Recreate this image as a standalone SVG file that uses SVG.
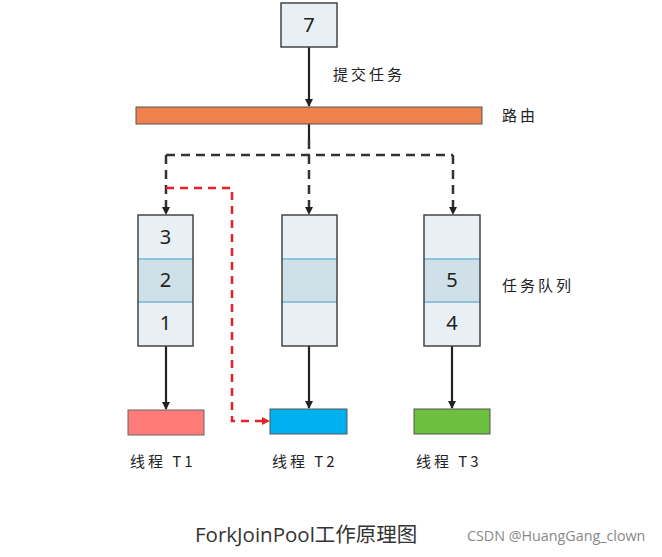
<svg xmlns="http://www.w3.org/2000/svg" width="662" height="557" viewBox="0 0 662 557">
<style>
.t{font-family:"Noto Sans CJK SC","Noto Sans",sans-serif;fill:#222;}
.n{font-family:"Noto Sans","Noto Sans CJK SC",sans-serif;font-size:20px;fill:#222;text-anchor:middle;}
.lbl{font-size:15px;letter-spacing:3px;}
.q{stroke:#444;stroke-width:1.5;}
.solid{stroke:#222;stroke-width:2.2;fill:none;}
.dash{stroke:#333;stroke-width:2.5;fill:none;stroke-dasharray:9,6;}
.red{stroke:#e8202a;stroke-width:2.5;fill:none;stroke-dasharray:8,6;}
</style>
<defs>
<marker id="ah" markerWidth="8" markerHeight="8" refX="7" refY="4" orient="auto" markerUnits="userSpaceOnUse"><path d="M0,0 L8,4 L0,8 Z" fill="#222"/></marker>
<marker id="ahr" markerWidth="8" markerHeight="8" refX="7" refY="4" orient="auto" markerUnits="userSpaceOnUse"><path d="M0,0 L8,4 L0,8 Z" fill="#e8202a"/></marker>
</defs>
<rect width="662" height="557" fill="#fff"/>
<g id="connectors">
<line class="solid" x1="309" y1="47" x2="309" y2="106" marker-end="url(#ah)"/>
<line class="solid" x1="309" y1="124" x2="309" y2="140"/>
<path class="dash" d="M309,140 V155 M166,155 H453"/>
<line class="dash" x1="166" y1="155" x2="166" y2="214" marker-end="url(#ah)"/>
<line class="dash" x1="309" y1="155" x2="309" y2="214" marker-end="url(#ah)"/>
<line class="dash" x1="453" y1="155" x2="453" y2="214" marker-end="url(#ah)"/>
<path class="red" d="M166,188 H232 V421 H269" marker-end="url(#ahr)"/>
<line class="solid" x1="166" y1="346" x2="166" y2="409" marker-end="url(#ah)"/>
<line class="solid" x1="309" y1="346" x2="309" y2="408" marker-end="url(#ah)"/>
<line class="solid" x1="452" y1="346" x2="452" y2="408" marker-end="url(#ah)"/>
</g>
<g id="task7">
<rect x="281" y="3" width="56" height="44" fill="#e8f0f5" class="q"/>
<text class="n" x="309" y="32">7</text>
</g>
<g id="label-submit"><text class="t lbl" x="333" y="80">提交任务</text></g>
<g id="router">
<rect x="136" y="107" width="346" height="17" fill="#ee814c" stroke="#555" stroke-width="1"/>
</g>
<g id="label-router"><text class="t lbl" x="502" y="121">路由</text></g>
<g id="queue1">
<rect x="138" y="215" width="55" height="131" fill="#e8f0f5"/>
<rect x="138" y="259" width="55" height="43" fill="#cfe0e8"/>
<line x1="138" y1="259" x2="193" y2="259" stroke="#72b8d4" stroke-width="1.5"/>
<line x1="138" y1="302" x2="193" y2="302" stroke="#72b8d4" stroke-width="1.5"/>
<rect x="138" y="215" width="55" height="131" fill="none" class="q"/>
<text class="n" x="165.500" y="244">3</text>
<text class="n" x="165.500" y="287">2</text>
<text class="n" x="165.500" y="330">1</text>
</g>
<g id="queue2">
<rect x="282" y="215" width="55" height="131" fill="#e8f0f5"/>
<rect x="282" y="259" width="55" height="43" fill="#cfe0e8"/>
<line x1="282" y1="259" x2="337" y2="259" stroke="#72b8d4" stroke-width="1.5"/>
<line x1="282" y1="302" x2="337" y2="302" stroke="#72b8d4" stroke-width="1.5"/>
<rect x="282" y="215" width="55" height="131" fill="none" class="q"/>
</g>
<g id="queue3">
<rect x="424" y="215" width="56" height="131" fill="#e8f0f5"/>
<rect x="424" y="259" width="56" height="43" fill="#cfe0e8"/>
<line x1="424" y1="259" x2="480" y2="259" stroke="#72b8d4" stroke-width="1.5"/>
<line x1="424" y1="302" x2="480" y2="302" stroke="#72b8d4" stroke-width="1.5"/>
<rect x="424" y="215" width="56" height="131" fill="none" class="q"/>
<text class="n" x="452" y="287">5</text>
<text class="n" x="452" y="330">4</text>
</g>
<g id="label-queue"><text class="t lbl" x="502" y="291">任务队列</text></g>
<g id="thread1">
<rect x="128" y="410" width="76" height="25" fill="#ff7b78" stroke="#666" stroke-width="1"/>
<text class="t lbl" x="130" y="467">线程 T1</text>
</g>
<g id="thread2">
<rect x="270" y="409" width="77" height="25" fill="#00b0ef" stroke="#555" stroke-width="1"/>
<text class="t lbl" x="272" y="467">线程 T2</text>
</g>
<g id="thread3">
<rect x="414" y="409" width="76" height="25" fill="#6dbf40" stroke="#555" stroke-width="1"/>
<text class="t lbl" x="416" y="467">线程 T3</text>
</g>
<g id="caption">
<text x="195" y="542" font-family="'Open Sans','Noto Sans CJK SC',sans-serif" font-size="20.500" fill="#333">ForkJoinPool工作原理图</text>
<text x="467" y="541" font-family="'Open Sans',sans-serif" font-size="14.300" fill="#888">CSDN @HuangGang_clown</text>
</g>
</svg>
